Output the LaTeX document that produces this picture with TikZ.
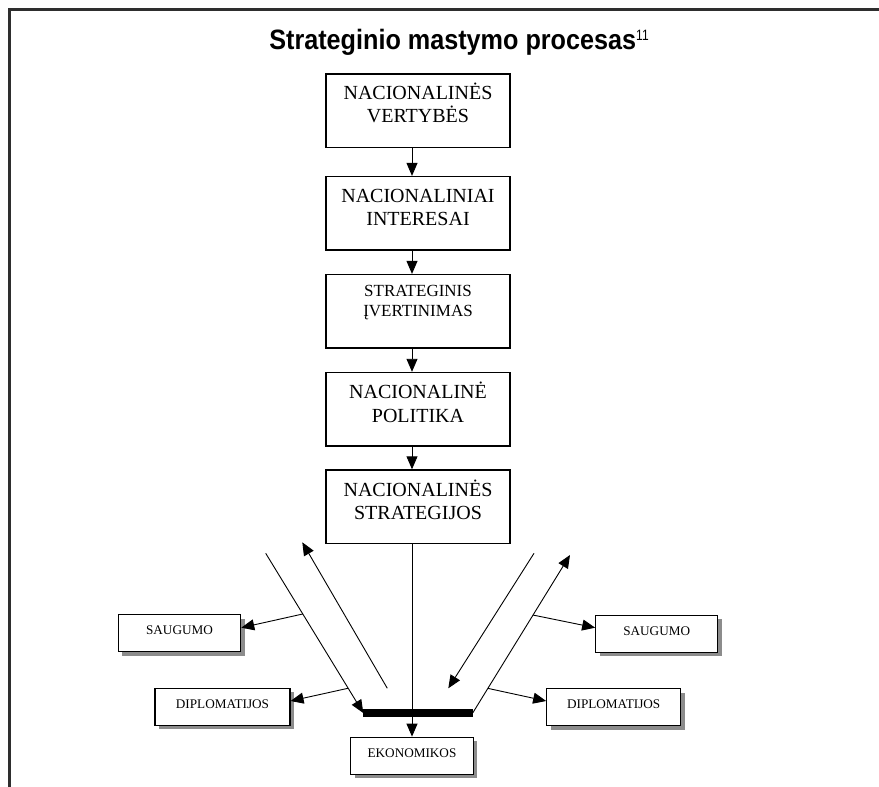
\documentclass[tikz,border=0pt]{standalone}
\usepackage{fontspec}
\setmainfont{Liberation Serif}
\newfontfamily\titlefont{Liberation Sans}
\usetikzlibrary{arrows.meta,shadows,calc}
\tikzset{
  mainbox/.style={draw, line width=1.3pt, minimum width=184pt, minimum height=73.5pt, inner sep=0pt},
  bigtxt/.style={anchor=base, inner sep=0pt, font=\fontsize{20}{23}\selectfont},
  midtxt/.style={anchor=base, inner sep=0pt, font=\fontsize{17}{20}\selectfont},
  smallbox/.style={draw, line width=1.1pt, fill=white, inner sep=0pt, minimum height=37pt,
    text height=9pt, text depth=6pt, font=\fontsize{13.2}{15}\selectfont,
    drop shadow={shadow xshift=4pt, shadow yshift=-4pt, fill=black!45, opacity=1}},
  arr/.style={-{Triangle[length=13pt,width=11pt]}, line width=0.9pt},
  frame/.style={line width=2.8pt, draw=black!82}
}
\begin{document}
\begin{tikzpicture}[x=1pt,y=-1pt]
\useasboundingbox (0,0) rectangle (879,787);
\draw[frame] (879,9.3) -- (9.3,9.3) -- (9.3,787);

\node[anchor=base, inner sep=0pt] (title) at (459,49.3)
  {{\titlefont\bfseries\fontsize{28}{30}\selectfont\scalebox{0.9}[1]{Strateginio mastymo procesas}}\raisebox{9.3pt}{\titlefont\fontsize{15}{16}\selectfont\scalebox{0.8}[1]{11}}};

% main column
\node[mainbox] (b1) at (418,110.7) {};
\node[mainbox] (b2) at (418,213.3) {};
\node[mainbox] (b3) at (418,311.3) {};
\node[mainbox] (b4) at (418,409.2) {};
\node[mainbox] (b5) at (418,506.7) {};

\node[bigtxt] (t1a) at (418,99.3) {NACIONALINĖS};
\node[bigtxt] (t1b) at (418,122.7) {VERTYBĖS};
\node[bigtxt] (t2a) at (418,202.3) {NACIONALINIAI};
\node[bigtxt] (t2b) at (418,225.7) {INTERESAI};
\node[midtxt] (t3a) at (418,296.7) {STRATEGINIS};
\node[midtxt] (t3b) at (418,316.7) {ĮVERTINIMAS};
\node[bigtxt] (t4a) at (418,398.3) {NACIONALINĖ};
\node[bigtxt] (t4b) at (418,422.3) {POLITIKA};
\node[bigtxt] (t5a) at (418,496.7) {NACIONALINĖS};
\node[bigtxt] (t5b) at (418,519.3) {STRATEGIJOS};

% bottom boxes
\node[smallbox, minimum width=122.4pt] (sL) at (179.5,633.3) {SAUGUMO};
\node[smallbox, minimum width=135pt] (dL) at (222.5,706.7) {DIPLOMATIJOS};
\node[smallbox, minimum width=122.6pt] (ek) at (412,755.7) {EKONOMIKOS};
\node[smallbox, minimum width=122pt] (sR) at (656.7,633.7) {SAUGUMO};
\node[smallbox, minimum width=134pt] (dR) at (613.7,707) {DIPLOMATIJOS};

% vertical arrows
\draw[arr] (b1.south -| ek.north) -- (b2.north -| ek.north);
\draw[arr] (b2.south -| ek.north) -- (b3.north -| ek.north);
\draw[arr] (b3.south -| ek.north) -- (b4.north -| ek.north);
\draw[arr] (b4.south -| ek.north) -- (b5.north -| ek.north);
\draw[arr] (b5.south -| ek.north) -- (ek.north);

% bar and diagonals
\coordinate (barL) at (363.3,713);
\coordinate (barR) at (472.7,713);
\draw[line width=7.3pt] (barL) -- (barR);

\coordinate (a1) at (265.7,553.3);
\coordinate (b0) at (387.3,688.3);
\coordinate (bt) at (302.3,542.3);
\coordinate (c1) at (570,555);
\coordinate (d0) at (534,553.3);
\coordinate (dt) at (448.3,688.3);

\draw[arr] (a1) -- (barL);
\draw[arr] (b0) -- (bt);
\draw[arr] (barR) -- (c1);
\draw[arr] (d0) -- (dt);

\draw[arr] ($(a1)!0.38!(barL)$) -- ([yshift=5.6pt]sL.east);
\draw[arr] ($(a1)!0.845!(barL)$) -- ([yshift=5.7pt]dL.east);
\draw[arr] ($(barR)!0.62!(c1)$) -- ([yshift=6pt]sR.west);
\draw[arr] ($(barR)!0.156!(c1)$) -- ([yshift=6pt]dR.west);
\end{tikzpicture}
\end{document}
